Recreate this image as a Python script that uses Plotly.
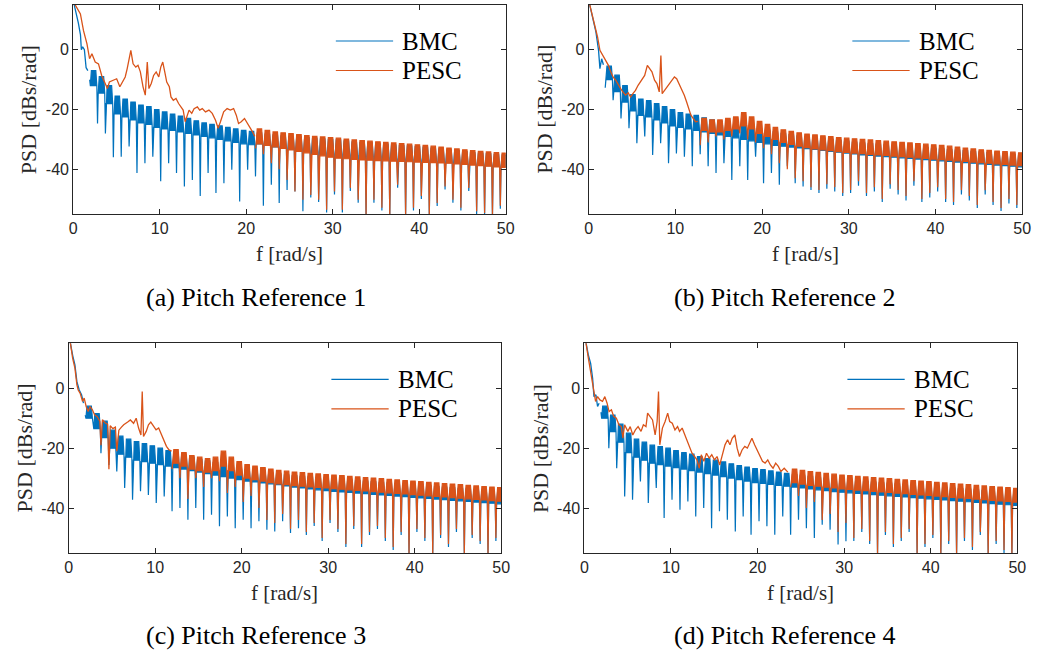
import plotly.graph_objects as go

W, H = 1048, 657
BLUE = "#0072BD"
ORANGE = "#D95319"
AX = "#262626"

NOTCH_F = [0.99, 1.91, 2.82, 3.73, 4.65, 5.56, 6.47, 7.38, 8.30, 9.21, 10.12, 11.04, 11.95, 12.86,
           13.78, 14.69, 15.60, 16.51, 17.43, 18.34, 19.25, 20.17, 21.08, 21.99, 22.91, 23.82, 24.73,
           25.64, 26.56, 27.47, 28.38, 29.30, 30.21, 31.12, 32.04, 32.95, 33.86, 34.77, 35.69, 36.60,
           37.51, 38.43, 39.34, 40.25, 41.17, 42.08, 42.99, 43.90, 44.82, 45.73, 46.64, 47.56, 48.47, 49.38]

X_TICKS = [0, 10, 20, 30, 40, 50]
Y_TICKS = [-40, -20, 0]
Y_TICKTEXT = ["-40", "-20", "0"]
SERIES_NAMES = ["BMC", "PESC"]
CAPTIONS = ["(a) Pitch Reference 1", "(b) Pitch Reference 2", "(c) Pitch Reference 3", "(d) Pitch Reference 4"]

# ---------------- Panel (a) ----------------
bmc_a_line_f = [0.05, 0.3, 0.6, 0.85, 0.95, 1.1, 1.3, 1.5, 1.7]
bmc_a_line_y = [16, 13, 9, 5, 0, 1, 0, -6, -7]
bmc_a_top = [-7, -9, -12, -15.5, -16.5, -17.5, -18.5, -19, -20, -20.8, -21.5, -22.2, -23, -23.8, -24.5, -25,
             -25.5, -26, -26.5, -27, -27.3, -27.8, -28.2, -28.5, -28.8, -29, -29.2, -29.4, -29.6, -29.8, -30,
             -30.2, -30.5, -30.8, -31, -31.2, -31.4, -31.6, -31.8, -32, -32.2, -32.4, -32.6, -32.9, -33.2,
             -33.5, -33.8, -34.1, -34.4, -34.6, -34.8, -35, -35.2]
bmc_a_bot = [-12, -14.5, -18, -21.5, -22.5, -23.5, -24.5, -25, -26, -26.5, -27, -27.5, -28, -28.5, -29, -29.5,
             -30, -30.5, -31, -31.5, -31.8, -31.5, -32, -32.5, -33, -33.3, -33.6, -33.9, -34.2, -34.5, -34.8,
             -35, -35.2, -35.4, -35.6, -35.8, -36, -36.2, -36.4, -36.6, -36.8, -37, -37.2, -37.4, -37.6,
             -37.8, -38, -38.2, -38.4, -38.6, -38.8, -39, -39.2]
bmc_a_dip = [-10, -24.7, -28, -36, -35.8, -32.4, -41.3, -38, -35.8, -44, -38, -41.3, -45.8, -43.6, -49, -41.3,
             -48, -44.7, -40.2, -50.8, -40.2, -42.4, -52.2, -45.2, -51.3, -47, -47.5, -54.1, -49.5, -51, -54.5,
             -48.5, -54.5, -47.3, -51.2, -56, -51.2, -53.8, -56, -46.2, -56, -53.8, -50, -56, -52.3, -46.8,
             -51.2, -53.8, -47.3, -55, -55.6, -56, -53.2]
pesc_a_line_f = [0.05, 0.4, 0.84, 1.2, 1.6, 1.9, 2.17, 2.55, 2.93, 3.3, 3.7, 3.96, 4.19, 4.65, 5.03, 5.4, 5.71,
                 6.02, 6.25, 6.48, 6.67, 6.93, 7.24, 7.5, 7.77, 8.08, 8.34, 8.57, 8.76, 9.03, 9.3, 9.6, 9.9,
                 10.13, 10.36, 10.59, 10.82, 11.12, 11.31, 11.58, 11.89, 12.19, 12.46, 12.72, 12.95, 13.14,
                 13.4, 13.71, 13.98, 14.36, 14.63, 14.93, 15.3, 15.7, 16.08, 16.46, 16.76, 17.03, 17.4, 17.8,
                 18.17, 18.55, 18.86, 19.12, 19.43, 19.81, 20.19, 20.46, 20.72, 21.0]
pesc_a_line_y = [16, 14, 12, 6.4, 2, -3, -1.3, -4.1, -4.7, -8.6, -11.3, -13, -10.8, -10.2, -9.7, -12.4,
                 -10.8, -9.1, -6.3, -3, -0.2, -4.7, -5.8, -5.2, -7.4, -12.4, -15.2, -4.1, -13, -11.3, -8.6,
                 -7.4, -9.1, -5.8, -4.1, -7.4, -10.8, -12.4, -15.8, -16.9, -16.3, -18, -19.1, -20.2, -24.1,
                 -22.4, -20.2, -21.3, -19.7, -19.1, -20.2, -19.7, -20.8, -20.2, -21.3, -23.6, -26.3, -24.1,
                 -20.8, -19.7, -20.2, -19.7, -21.9, -24.7, -24.1, -23, -24.7, -26.3, -27.4, -29]
pesc_a_top = [-26.5, -27, -27.5, -27.8, -28.1, -28.4, -28.7, -29, -29.2, -29.4, -29.6, -29.9, -30.2, -30.4,
              -30.6, -30.8, -31, -31.2, -31.4, -31.6, -31.8, -32, -32.3, -32.6, -32.9, -33.2, -33.5, -33.8,
              -34, -34.2, -34.4, -34.6]
pesc_a_bot = [-31.5, -32, -32.5, -33, -33.5, -34, -34.5, -35, -35.5, -36, -36.3, -36.5, -36.7, -36.9,
              -37, -37.1, -37.2, -37.3, -37.4, -37.5, -37.6, -37.7, -37.8, -37.9, -38, -38.2, -38.4, -38.6,
              -38.8, -39, -39.2, -39.4]
pesc_a_dip = [-33, -35, -38, -40, -43.6, -47.5, -50.2, -48.6, -50.2, -53.6, -47.5, -53.6, -46.3, -50.2,
              -55.5, -50.2, -52.9, -55.5, -45.2, -55.5, -52.9, -49, -55.5, -51.3, -45.8, -50.2, -52.9,
              -46.3, -54.1, -54.7, -55.5, -52.2]

# ---------------- Panel (b) ----------------
bmc_b_line_f = [0.05, 0.4, 0.84, 1.14, 1.3, 1.5, 1.7]
bmc_b_line_y = [16, 11, 5.9, -0.2, -6.3, -3, -5]
bmc_b_top = [-5.5, -8.5, -12, -15, -16.5, -17, -18, -19, -20, -21, -21.5, -22, -22.8, -23.5, -24, -24.5, -25,
             -25.5, -26, -26.5, -27, -27.5, -28, -28.4, -28.8, -29.1, -29.4, -29.7, -30, -30.3, -30.6, -30.9,
             -31.2, -31.4, -31.6, -31.8, -32, -32.2, -32.4, -32.6, -32.8, -33, -33.2, -33.4, -33.6, -33.8,
             -34, -34.2, -34.4, -34.6, -34.8, -35, -35.2]
bmc_b_bot = [-10, -14, -17.5, -20.5, -22, -22.5, -23.5, -24.5, -25.5, -26, -26.5, -27, -27.5, -28, -28.5, -29,
             -29.5, -30, -30.5, -31, -31.5, -32, -32.3, -32.6, -32.9, -33.1, -33.4, -33.7, -34, -34.3, -34.6,
             -34.9, -35.2, -35.4, -35.6, -35.8, -36, -36.2, -36.4, -36.6, -36.8, -37, -37.2, -37.4, -37.6,
             -37.8, -38, -38.2, -38.4, -38.6, -38.8, -39, -39.2]
bmc_b_dip = [-12.7, -16.9, -23, -26.3, -31.3, -29, -35.2, -31.3, -38, -34.7, -35.8, -39, -35, -39, -41.3, -38,
             -43.6, -39, -43.6, -35.8, -44.7, -41.3, -45.2, -39, -44.7, -45.8, -47, -48, -46.5, -47.5, -49,
             -48, -45.5, -49, -47.5, -51, -46.5, -48.5, -50.5, -45.5, -51, -49.5, -47.5, -51, -52, -48.5,
             -50.5, -53, -48.5, -52, -54, -51.5, -53]
pesc_b_line_f = [0.05, 0.15, 0.65, 1.03, 1.3, 1.52, 1.79, 2.05, 2.28, 2.55, 2.81, 3.12, 3.42, 3.69, 3.95, 4.26,
                 4.56, 4.83, 5.1, 5.4, 5.7, 6.08, 6.46, 6.77, 7.03, 7.3, 7.6, 7.87, 8.14, 8.33, 8.48, 8.75,
                 9.01, 9.28, 9.58, 9.89, 10.15, 10.42, 10.72, 11.03, 11.29, 11.56, 11.79, 12.05, 12.32, 12.6]
pesc_b_line_y = [16, 14.8, 8.7, 4.2, -0.2, -1.3, -2.4, -4.1, -5.2, -7.4, -9.1, -10.2, -11.9, -13, -14.1,
                 -15.2, -14.4, -15.8, -14.7, -13.6, -11.9, -10.2, -8.6, -5.2, -6.3, -7.4, -10.2, -11.3, -14.1,
                 -1.9, -14.7, -13.6, -12.4, -11.3, -10.2, -9.1, -9.7, -11.3, -13, -15.2, -17.4, -20.2, -21.9,
                 -23, -24.1, -24]
pesc_b_top = [-23, -23.5, -23.5, -23, -22.5, -21, -22.5, -24, -25, -26, -26.8, -27.3, -27.8, -28.2, -28.5,
              -28.8, -29.1, -29.4, -29.6, -29.8, -30, -30.2, -30.4, -30.6, -30.8, -31, -31.2, -31.4, -31.6,
              -31.8, -32, -32.3, -32.6, -32.9, -33.2, -33.5, -33.7, -33.9, -34.1, -34.3, -34.5]
pesc_b_bot = [-27, -27.5, -27.5, -27, -26.5, -25.5, -26.5, -28, -29, -30, -31, -31.7, -32.3, -32.8, -33.2,
              -33.5, -33.8, -34.1, -34.4, -34.6, -34.8, -35, -35.2, -35.4, -35.6, -35.8, -36, -36.2, -36.4,
              -36.6, -36.8, -37, -37.2, -37.4, -37.6, -37.8, -38, -38.2, -38.4, -38.6, -38.8]
pesc_b_dip = [-32, -31, -29, -30, -29, -28, -30, -31, -33, -35, -38, -40, -43, -44, -46, -47, -45, -46, -48,
              -47, -44, -48, -46, -50, -45, -47, -49, -44, -50, -48, -46, -50, -51, -47, -49, -52, -47, -51,
              -53, -50, -52]

# ---------------- Panel (c) ----------------
bmc_c_line_f = [0.05, 0.2, 0.46, 0.72, 0.95, 1.22, 1.49, 1.71]
bmc_c_line_y = [16, 15, 11, 7.8, 2.2, -0.6, -2.2, -5]
bmc_c_top = [-6, -8.5, -11, -14, -16, -17, -17.8, -18.5, -19.2, -20, -20.8, -21.5, -22.2, -23, -23.7, -24.2,
             -24.8, -25.4, -26, -26.6, -27.2, -27.6, -28, -28.3, -28.6, -28.9, -29.2, -29.4, -29.6, -29.8, -30,
             -30.2, -30.4, -30.6, -30.8, -31, -31.2, -31.4, -31.6, -31.8, -32, -32.2, -32.4, -32.6, -32.8,
             -33, -33.2, -33.4, -33.6, -33.8, -34, -34.2, -34.4]
bmc_c_bot = [-10, -13.5, -16.5, -20, -22, -23, -24, -24.5, -25, -25.5, -26, -26.5, -27, -27.5, -28, -28.5,
             -29, -29.5, -30, -30.5, -31, -31.3, -31.6, -31.9, -32.2, -32.6, -33, -33.3, -33.6, -33.9, -34.2,
             -34.4, -34.6, -34.8, -35, -35.2, -35.4, -35.6, -35.8, -36, -36.2, -36.4, -36.6, -36.8, -37,
             -37.2, -37.4, -37.6, -37.8, -38, -38.2, -38.4, -38.6]
bmc_c_dip = [-9, -11.7, -21.7, -25.6, -27.8, -33.3, -37.2, -34.4, -35.6, -38.3, -36.1, -41.1, -40, -43.9, -40,
             -43.9, -42.2, -46.1, -42.8, -46.7, -43.9, -46.7, -44.4, -47.2, -47.8, -44.4, -48.3, -46.7, -49,
             -46, -51, -45, -48, -53, -47, -53, -49, -47, -51, -54, -49, -56, -48, -51, -56, -50, -53, -48,
             -56, -50, -52, -56, -51]
pesc_c_line_f = [0.05, 0.2, 0.46, 0.72, 0.95, 1.1, 1.33, 1.6, 1.79, 2.02, 2.25, 2.48, 2.74, 3.0, 3.3, 3.6,
                 3.73, 3.9, 4.2, 4.5, 4.65, 4.8, 5.1, 5.4, 5.56, 5.8, 6.1, 6.36, 6.82, 7.13, 7.5, 7.8, 8.08,
                 8.35, 8.5, 8.65, 8.96, 9.22, 9.49, 9.8, 10.1, 10.4, 10.75, 11.0, 11.3, 11.6, 11.9]
pesc_c_line_y = [16, 15, 10, 6.7, 1.1, -0.6, -1.7, -4.4, -3.3, -6.1, -7.8, -6.1, -7.2, -8.9, -9.5, -11, -19,
                 -10.5, -11.5, -12, -27, -12.5, -13.5, -13, -21, -14, -13, -12.2, -11.3, -10.6, -11.7, -10,
                 -13.3, -15.6, -1.1, -16.1, -14.4, -12.2, -11.3, -12.8, -13.9, -13.3, -15.6, -17.8, -19.4,
                 -20.6, -21]
pesc_c_top = [-20.5, -21.5, -22.5, -23, -23.5, -23, -21, -23, -24.5, -25.5, -26, -26.5, -27, -27.4, -27.7,
              -28, -28.2, -28.4, -28.6, -28.8, -29, -29.2, -29.4, -29.6, -29.8, -30, -30.2, -30.4, -30.6,
              -30.8, -31, -31.2, -31.4, -31.6, -31.8, -32, -32.2, -32.4, -32.6, -32.8, -33, -33.2]
pesc_c_bot = [-25, -26, -27, -27.5, -28, -27.5, -26, -27.5, -29, -30, -30.5, -31, -31.5, -31.9, -32.2, -32.5,
              -32.7, -32.9, -33.1, -33.3, -33.5, -33.7, -33.9, -34.1, -34.3, -34.5, -34.7, -34.9, -35.1,
              -35.3, -35.5, -35.7, -35.9, -36.1, -36.3, -36.5, -36.7, -36.9, -37.1, -37.3, -37.5, -37.7]
pesc_c_dip = [-27, -30, -37, -30, -33, -30, -31, -35, -33, -38, -36, -40, -44, -45, -42, -47, -44, -48, -45,
              -50, -44, -47, -52, -46, -52, -48, -46, -50, -53, -48, -55.5, -47, -50, -55.5, -49, -52, -47,
              -55.5, -49, -51, -55.5, -50]

# ---------------- Panel (d) ----------------
bmc_d_line_f = [0.05, 0.2, 0.46, 0.72, 0.95, 1.1, 1.33, 1.52, 1.7]
bmc_d_line_y = [16, 15, 11, 8.3, 3.3, -2.8, -2.2, -6.1, -5]
bmc_d_top = [-6, -9, -12, -15, -17, -18, -19, -19.5, -20, -20.8, -21.5, -22, -22.8, -23.5, -24, -24.6, -25.2,
             -25.8, -26.3, -26.8, -27.2, -27.6, -28, -28.4, -28.8, -29.1, -29.4, -29.7, -30, -30.3, -30.5,
             -30.7, -30.9, -31.1, -31.3, -31.5, -31.7, -31.9, -32.1, -32.3, -32.5, -32.7, -32.9, -33.1, -33.3,
             -33.5, -33.7, -33.9, -34.1, -34.3, -34.5, -34.7, -34.9]
bmc_d_bot = [-10, -14.5, -18, -21.5, -23, -24, -25, -25.5, -26, -26.5, -27, -27.5, -28, -28.5, -29, -29.5,
             -30, -30.5, -31, -31.5, -31.8, -32.1, -32.4, -32.7, -33, -33.3, -33.6, -33.9, -34.2, -34.5,
             -34.7, -34.9, -35.1, -35.3, -35.5, -35.7, -35.9, -36.1, -36.3, -36.5, -36.7, -36.9, -37.1, -37.3,
             -37.5, -37.7, -37.9, -38.1, -38.3, -38.5, -38.7, -38.9, -39.1]
bmc_d_dip = [-8, -20, -26.7, -36.1, -37.2, -31.1, -38.3, -33.3, -43.3, -37.2, -40.6, -37.8, -42.8, -40, -46.7,
             -41.1, -43.9, -47.8, -42.8, -48.9, -44.4, -46.1, -48.9, -42.8, -48.9, -43.9, -46.7, -50, -45.6,
             -47.2, -52.2, -51.1, -51, -48, -52, -56, -49, -53, -51, -48, -56, -53, -50, -56, -52, -56, -51,
             -54, -49, -56, -52, -55, -56]
pesc_d_line_f = [0.05, 0.19, 0.46, 0.72, 0.91, 1.1, 1.29, 1.52, 1.79, 2.09, 2.36, 2.62, 2.85, 3.12, 3.38,
                 3.69, 3.99, 4.26, 4.45, 4.64, 5.02, 5.29, 5.59, 5.89, 6.2, 6.54, 6.81, 7.11, 7.3, 7.57, 7.87,
                 8.17, 8.4, 8.56, 8.71, 9.01, 9.32, 9.62, 9.85, 10.15, 10.46, 10.76, 10.99, 11.29, 11.6,
                 11.86, 12.13, 12.43, 12.74, 13.0, 13.27, 13.5, 13.8, 14.1, 14.41, 14.71, 15.02, 15.32,
                 15.63, 15.93, 16.24, 16.54, 16.81, 17.07, 17.38, 17.64, 17.91, 18.21, 18.52, 18.82, 19.09,
                 19.35, 19.66, 19.96, 20.27, 20.57, 20.87, 21.18, 21.48, 21.79, 22.09, 22.4, 22.7, 23.08, 23.5]
pesc_d_line_y = [16, 15, 10, 5.6, 1.1, -2.2, -4.4, -2.8, -3.9, -4.4, -2.8, -5, -7.8, -7.2, -9.4, -10, -12.2,
                 -12.8, -16.7, -12.2, -14.4, -12.8, -15.6, -13.9, -12.8, -14.4, -12.2, -12.8, -8.3, -9.4,
                 -10.6, -15.6, -11.1, -1.1, -18.9, -13.3, -11.1, -8.3, -11.1, -11.7, -13.9, -12.8, -14.4,
                 -13.3, -15.6, -17.8, -20, -21.7, -22.8, -23.9, -26.7, -22.2, -24.4, -21.7, -23.3, -22.2,
                 -23.9, -22.8, -25.6, -22.2, -18.9, -17.2, -18.9, -16.7, -15.6, -20, -22.8, -20.6, -19.4,
                 -20, -18.3, -16.7, -18.9, -20.6, -22.8, -24.4, -25, -23.9, -25.6, -26.7, -25, -26.1, -27.8,
                 -26.7, -28]
pesc_d_top = [-27, -27.4, -27.8, -28.1, -28.4, -28.7, -29, -29.2, -29.4, -29.6, -29.8, -30, -30.2, -30.4,
              -30.6, -30.8, -31, -31.2, -31.4, -31.6, -31.8, -32, -32.2, -32.4, -32.6, -32.8, -33, -33.2, -33.4]
pesc_d_bot = [-31.5, -32, -32.4, -32.7, -33, -33.3, -33.6, -33.8, -34, -34.2, -34.4, -34.6, -34.8, -35,
              -35.2, -35.4, -35.6, -35.8, -36, -36.2, -36.4, -36.6, -36.8, -37, -37.2, -37.4, -37.6, -37.8, -38]
pesc_d_dip = [-33, -36, -40, -38, -44, -42, -48, -45, -50, -47, -51, -55.5, -48, -52, -50, -47, -55.5, -52,
              -49, -55.5, -51, -55.5, -50, -53, -48, -55.5, -51, -54, -55.5]

PANELS = [
    dict(bmc=(bmc_a_line_f, bmc_a_line_y, bmc_a_top, bmc_a_bot, bmc_a_dip),
         pesc=(pesc_a_line_f, pesc_a_line_y, pesc_a_top, pesc_a_bot, pesc_a_dip)),
    dict(bmc=(bmc_b_line_f, bmc_b_line_y, bmc_b_top, bmc_b_bot, bmc_b_dip),
         pesc=(pesc_b_line_f, pesc_b_line_y, pesc_b_top, pesc_b_bot, pesc_b_dip)),
    dict(bmc=(bmc_c_line_f, bmc_c_line_y, bmc_c_top, bmc_c_bot, bmc_c_dip),
         pesc=(pesc_c_line_f, pesc_c_line_y, pesc_c_top, pesc_c_bot, pesc_c_dip)),
    dict(bmc=(bmc_d_line_f, bmc_d_line_y, bmc_d_top, bmc_d_bot, bmc_d_dip),
         pesc=(pesc_d_line_f, pesc_d_line_y, pesc_d_top, pesc_d_bot, pesc_d_dip)),
]

# plot-area boxes in pixels: (left, right, top, bottom)
BOXES = [(70, 508, 5, 214), (592, 1031, 5, 214), (65.5, 503.5, 343.3, 553), (587.7, 1026, 343.3, 553)]
CAP_X = [255, 791, 255, 791]
CAP_Y = [297, 297, 635, 635]

W_OUT = 0.2   # half-width of the notch gap at the band top (rad/s)
W_IN = 0.08   # half-width of the notch spike below the band (rad/s)


def band_poly(top, bot, dip):
    """Closed outline of the dense oscillating band: lobes between notches plus deep notch spikes."""
    n = len(top)
    assert len(bot) == n and len(dip) == n
    fs = NOTCH_F[len(NOTCH_F) - n:]
    ux, uy, lx, ly = [], [], [], []
    for k in range(n):
        f = fs[k]
        fn = fs[k + 1] if k + 1 < n else f + (f - fs[k - 1])
        if k > 0:
            ux += [f - W_OUT, f - W_IN]
            uy += [top[k - 1], bot[k - 1]]
            lx += [f - W_IN]
            ly += [bot[k - 1]]
        ux += [f, f + W_IN, f + W_OUT, fn - W_OUT]
        uy += [dip[k], bot[k], top[k], top[k]]
        lx += [f, f + W_IN, fn - W_IN]
        ly += [dip[k], bot[k], bot[k]]
    return ux + lx[::-1], uy + ly[::-1]


fig = go.Figure()
layout = dict(width=W, height=H, autosize=False, margin=dict(l=0, r=0, t=0, b=0),
              paper_bgcolor="white", plot_bgcolor="white", showlegend=False)
shapes, annos = [], []
SERIF = "Liberation Serif"
SANS = "Liberation Sans"

for i, (panel, box) in enumerate(zip(PANELS, BOXES)):
    sfx = "" if i == 0 else str(i + 1)
    xa, ya = "x" + sfx, "y" + sfx
    l, r, t, b = box
    layout["xaxis" + sfx] = dict(domain=[l / W, r / W], anchor=ya, range=[0, 50], tickvals=X_TICKS,
                                 ticks="inside", ticklen=5, tickcolor=AX, showline=True, linecolor=AX,
                                 linewidth=1, mirror="ticks", showgrid=False, zeroline=False,
                                 tickfont=dict(family=SANS, size=16, color=AX), fixedrange=True)
    layout["yaxis" + sfx] = dict(domain=[1 - b / H, 1 - t / H], anchor=xa, range=[-55, 15], tickvals=Y_TICKS,
                                 ticktext=Y_TICKTEXT, ticks="inside", ticklen=5, tickcolor=AX, showline=True,
                                 linecolor=AX, linewidth=1, mirror="ticks", showgrid=False, zeroline=False,
                                 tickfont=dict(family=SANS, size=16, color=AX), fixedrange=True)
    for key, color in (("bmc", BLUE), ("pesc", ORANGE)):
        lf, ly_, top, bot, dip = panel[key]
        assert len(lf) == len(ly_)
        fig.add_trace(go.Scatter(x=lf, y=ly_, mode="lines", line=dict(color=color, width=1.3),
                                 xaxis=xa, yaxis=ya, hoverinfo="skip"))
        px, py = band_poly(top, bot, dip)
        fig.add_trace(go.Scatter(x=px, y=py, mode="lines", fill="toself", fillcolor=color,
                                 line=dict(color=color, width=1.2), xaxis=xa, yaxis=ya, hoverinfo="skip"))
    cx = (l + r) / 2
    annos.append(dict(text="f [rad/s]", x=cx / W, y=1 - (b + 40) / H, xref="paper", yref="paper",
                      showarrow=False, xanchor="center", yanchor="middle",
                      font=dict(family=SERIF, size=21, color=AX)))
    annos.append(dict(text="PSD [dBs/rad]", x=(l - 45) / W, y=1 - ((t + b) / 2) / H, xref="paper",
                      yref="paper", showarrow=False, textangle=-90, xanchor="center", yanchor="middle",
                      font=dict(family=SERIF, size=22, color=AX)))
    annos.append(dict(text=CAPTIONS[i], x=CAP_X[i] / W, y=1 - CAP_Y[i] / H, xref="paper", yref="paper",
                      showarrow=False, xanchor="center", yanchor="middle",
                      font=dict(family=SERIF, size=26, color="black")))
    # legend
    lx0 = r - 172
    for j, (name, color) in enumerate(zip(SERIES_NAMES, (BLUE, ORANGE))):
        yy = t + 36 + j * 29.5
        shapes.append(dict(type="line", xref="paper", yref="paper", x0=lx0 / W, x1=(lx0 + 58) / W,
                           y0=1 - yy / H, y1=1 - yy / H, line=dict(color=color, width=1.2)))
        annos.append(dict(text=name, x=(lx0 + 65) / W, y=1 - yy / H, xref="paper", yref="paper",
                          showarrow=False, xanchor="left", yanchor="middle",
                          font=dict(family=SERIF, size=25, color="black")))

layout["shapes"] = shapes
layout["annotations"] = annos
fig.update_layout(**layout)
fig.write_html("out.html", config={"displayModeBar": False, "staticPlot": True},
               post_script="document.body.style.margin='0px';document.body.style.padding='0px';"
                           "document.documentElement.style.overflow='hidden';")
